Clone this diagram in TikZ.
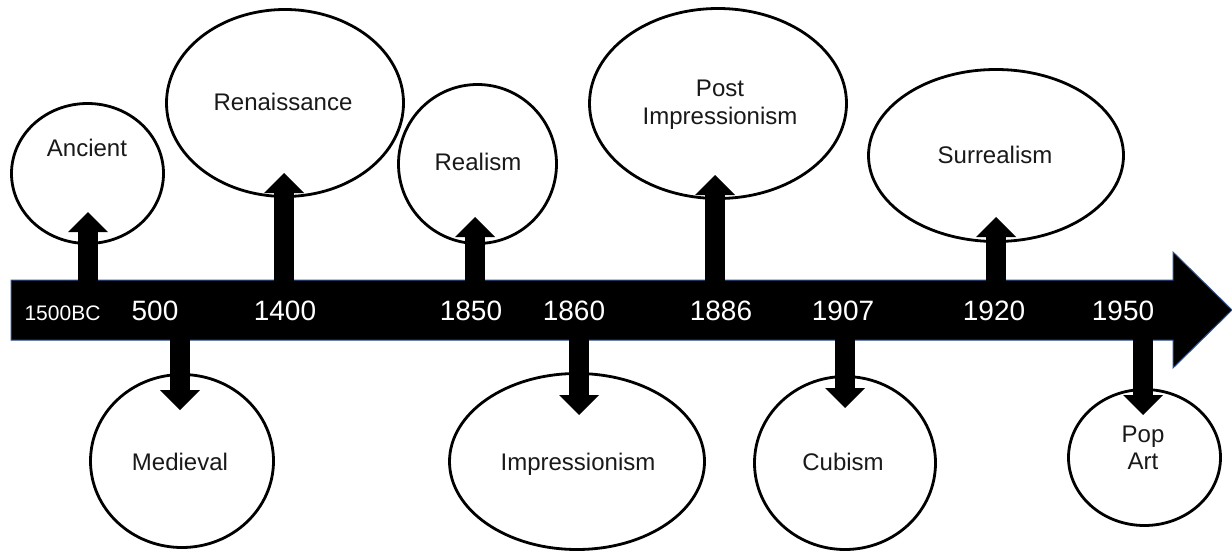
\documentclass[tikz,border=0pt]{standalone}
\usepackage{fontspec}
\setmainfont{Liberation Sans}
\usetikzlibrary{arrows.meta,shapes.geometric}
\definecolor{edgeblue}{RGB}{47,82,143}
\definecolor{labelgray}{RGB}{25,25,25}
\begin{document}
\begin{tikzpicture}[x=1pt,y=-1pt,
  era/.style={ellipse,draw=black,line width=2.8pt,inner sep=0pt,fill=white},
  eralabel/.style={font=\fontsize{24}{28}\selectfont,anchor=base,text=labelgray,inner sep=0pt},
  yearlabel/.style={font=\fontsize{28}{30}\selectfont,text=white,anchor=base,inner sep=0pt},
  smallyear/.style={font=\fontsize{21}{24}\selectfont,text=white,anchor=base,inner sep=0pt},
  pointer/.style={line width=20pt,draw=black,-{Triangle[width=40pt,length=20pt,line width'=0pt]}},
]
\useasboundingbox (0,0) rectangle (1232,554);

% era ellipses
\node[era,minimum width=152pt,minimum height=140pt] (anc) at (87.5,173.5) {};
\node[era,minimum width=237pt,minimum height=187pt] (ren) at (285,103) {};
\node[era,minimum width=158pt,minimum height=159pt] (rea) at (477.5,164) {};
\node[era,minimum width=257pt,minimum height=190pt] (post) at (718,103.5) {};
\node[era,minimum width=255pt,minimum height=172pt] (sur) at (996,155.5) {};
\node[era,minimum width=183pt,minimum height=173pt] (med) at (182,461) {};
\node[era,minimum width=255pt,minimum height=176pt] (imp) at (577,461.5) {};
\node[era,minimum width=181pt,minimum height=173pt] (cub) at (845,463) {};
\node[era,minimum width=152pt,minimum height=136pt] (pop) at (1144.5,457.5) {};

% timeline arrow
\draw[fill=black,draw=edgeblue,line width=1pt,line join=miter]
  (11,280) -- (1173,280) -- (1173,252) -- (1232,310) -- (1173,368) -- (1173,340) -- (11,340) -- cycle;
\coordinate (ttop) at (0,282);
\coordinate (tbot) at (0,338);

% pointer tips
\coordinate (ancTip) at (88,212);
\coordinate (renTip) at (284,173);
\coordinate (reaTip) at (475,217);
\coordinate (postTip) at (715,175);
\coordinate (surTip) at (996,217);
\coordinate (medTip) at (180,410);
\coordinate (impTip) at (579,415);
\coordinate (cubTip) at (845,408);
\coordinate (popTip) at (1143,415);

\draw[pointer] (ttop -| ancTip) -- (ancTip);
\draw[pointer] (ttop -| renTip) -- (renTip);
\draw[pointer] (ttop -| reaTip) -- (reaTip);
\draw[pointer] (ttop -| postTip) -- (postTip);
\draw[pointer] (ttop -| surTip) -- (surTip);
\draw[pointer] (tbot -| medTip) -- (medTip);
\draw[pointer] (tbot -| impTip) -- (impTip);
\draw[pointer] (tbot -| cubTip) -- (cubTip);
\draw[pointer] (tbot -| popTip) -- (popTip);

% era labels
\node[eralabel] (ancT) at (87,156) {Ancient};
\node[eralabel] (renT) at (283,110) {Renaissance};
\node[eralabel] (reaT) at (478,170) {Realism};
\node[eralabel] (postT1) at (720,96) {Post};
\node[eralabel] (postT2) at (720,124) {Impressionism};
\node[eralabel] (surT) at (995,163) {Surrealism};
\node[eralabel] (medT) at (180,470) {Medieval};
\node[eralabel] (impT) at (578,470) {Impressionism};
\node[eralabel] (cubT) at (843,470) {Cubism};
\node[eralabel] (popT1) at (1143,442) {Pop};
\node[eralabel] (popT2) at (1143,469) {Art};

% year labels
\node[smallyear] (y1) at (62.5,320) {1500BC};
\node[yearlabel] (y2) at (155,320) {500};
\node[yearlabel] (y3) at (285,320) {1400};
\node[yearlabel] (y4) at (471,320) {1850};
\node[yearlabel] (y5) at (574,320) {1860};
\node[yearlabel] (y6) at (721,320) {1886};
\node[yearlabel] (y7) at (843,320) {1907};
\node[yearlabel] (y8) at (994,320) {1920};
\node[yearlabel] (y9) at (1123,320) {1950};
\end{tikzpicture}
\end{document}
